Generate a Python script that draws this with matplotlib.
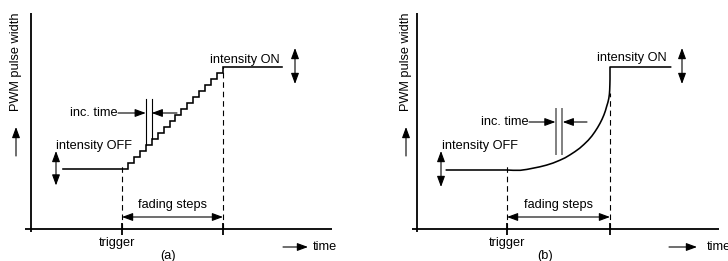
import matplotlib
matplotlib.use("Agg")
import matplotlib.pyplot as plt

# ---------------- data (schematic units) ----------------
# time measured in fade-step periods, level in PWM increments
t_trigger = 0
t_end = 17
level_off = 0
level_on = 17
t_start = -10
t_stop = 27

# panel (a): linear staircase fade
step_times = [0, 1, 2, 3, 4, 5, 6, 7, 8, 9, 10, 11, 12, 13, 14, 15, 16, 17]
step_levels = [0, 1, 2, 3, 4, 5, 6, 7, 8, 9, 10, 11, 12, 13, 14, 15, 16, 17]
inc_marks_a = [4, 5]

# panel (b): smooth exponential-like fade
curve_times = [0, 1.0, 2.2, 3.3, 4.3, 5.4, 6.5, 7.6, 8.7, 9.6, 10.4, 11.2, 12.0,
               12.7, 13.4, 14.0, 14.5, 14.95, 15.35, 15.7, 16.0, 16.25, 16.45,
               16.65, 16.8, 16.9, 16.95, 16.98, 17.0, 17.0]
curve_levels = [0, -0.05, -0.05, 0.1, 0.3, 0.52, 0.8, 1.15, 1.6, 2.02, 2.5, 3.02, 3.6,
                4.22, 4.9, 5.6, 6.3, 7.0, 7.7, 8.4, 9.1, 9.8, 10.5, 11.15, 11.8,
                12.5, 13.2, 14.1, 15.0, 17.0]
inc_marks_b = [8.1, 9.1]

labels = {
    "y": "PWM pulse width", "x": "time", "off": "intensity OFF",
    "on": "intensity ON", "inc": "inc. time", "fade": "fading steps",
    "trig": "trigger",
}
panel_names = ["(a)", "(b)"]

# ---------------- style ----------------
plt.rcParams['font.family'] = ['Liberation Sans', 'DejaVu Sans']
W, H, DPI = 728, 261, 100
FS = 9.2
LW_AX = 1.3
LW_CURVE = 1.15
LW_THIN = 0.8
LW_DASH = 0.8

fig = plt.figure(figsize=(W / DPI, H / DPI), dpi=DPI)


def make_panel(x_trig_px, x_end_px, y_off_px, y_on_px):
    ax = fig.add_axes([0, 0, 1, 1])
    ax.set_axis_off()
    ax.patch.set_alpha(0)
    sx = (x_end_px - x_trig_px) / (t_end - t_trigger)
    sy = (y_off_px - y_on_px) / (level_on - level_off)

    def P(px, py):
        return (t_trigger + (px - x_trig_px) / sx,
                level_off + (y_off_px - py) / sy)

    x0, y1 = P(0, 0)
    x1, y0 = P(W, H)
    ax.set_xlim(x0, x1)
    ax.set_ylim(y0, y1)
    return ax, P


def arrow(ax, tail, tip, style='-|>', color='black', lw=LW_THIN):
    ax.annotate('', xy=tip, xytext=tail, xycoords='data', textcoords='data',
                arrowprops=dict(arrowstyle=f'{style},head_length=0.65,head_width=0.24',
                                color=color, lw=lw, shrinkA=0, shrinkB=0,
                                mutation_scale=10))


def common(ax, P, L, name):
    # axes
    ax.plot(*zip(P(L['yax_x'], 13), P(L['yax_x'], 232)), color='black', lw=LW_AX,
            solid_capstyle='butt')
    ax.plot(*zip(P(L['xax_x0'], 229), P(L['xax_x1'], 229)), color='black', lw=LW_AX,
            solid_capstyle='butt')
    _, ax_level = P(0, 229)
    _, tick_lo = P(0, 235)
    _, tick_hi = P(0, 223)
    for t in (t_trigger, t_end):
        ax.plot([t, t], [tick_lo, tick_hi], color='black', lw=LW_AX, solid_capstyle='butt')
    # dashed markers
    ax.plot([t_trigger, t_trigger], [ax_level, L['trig_dash_top']], color='black',
            lw=LW_DASH, dashes=(5, 3.5))
    ax.plot([t_end, t_end], [ax_level, L['end_dash_top']], color='black',
            lw=LW_DASH, dashes=(5, 3.5))
    # y label + up arrow
    ax.text(*P(L['ylab_x'], 62), labels['y'], rotation=90, ha='center', va='center',
            fontsize=FS)
    arrow(ax, P(L['ylab_x'], 156), P(L['ylab_x'], 127))
    # x label
    arrow(ax, P(L['time_a0'], 247), P(L['time_a1'], 247))
    ax.text(*P(L['time_x'], 247), labels['x'], ha='left', va='center', fontsize=FS)
    ax.text(*P(L['trig_x'], 243), labels['trig'], ha='center', va='center', fontsize=FS)
    ax.text(*P(L['name_x'], 256), name, ha='center', va='center', fontsize=FS)
    # fading steps
    _, fade_y = P(0, 217)
    arrow(ax, (t_trigger, fade_y), (t_end, fade_y), style='<|-|>')
    ax.text(*P(L['fade_x'], 205), labels['fade'], ha='center', va='center', fontsize=FS)
    # OFF / ON
    ax.text(*P(L['off_x'], 146), labels['off'], ha='left', va='center', fontsize=FS)
    arrow(ax, P(L['offarr_x'], 151), P(L['offarr_x'], L['off_y'] + 17), style='<|-|>')
    ax.text(*P(L['on_x'], L['on_ty']), labels['on'], ha='left', va='center', fontsize=FS)
    arrow(ax, P(L['onarr_x'], 48), P(L['onarr_x'], 84), style='<|-|>')
    # inc. time
    ax.text(*P(L['inc_x'], L['inc_y']), labels['inc'], ha='left', va='center', fontsize=FS)


# ---------------- panel (a) ----------------
La = dict(yax_x=31, xax_x0=25, xax_x1=332, ylab_x=16, time_a0=283, time_a1=308,
          time_x=313, trig_x=117, name_x=168, fade_x=172, off_x=56, offarr_x=56,
          off_y=168.5, on_x=210, on_ty=60, onarr_x=295, inc_x=70, inc_y=113)
axa, Pa = make_panel(122, 223, 168.5, 67)
La['trig_dash_top'] = Pa(0, 164)[1]
La['end_dash_top'] = level_on
common(axa, Pa, La, panel_names[0])
ta = [t_start] + step_times + [t_stop]
la = [level_off] + step_levels + [level_on]
axa.step(ta, la, where='post', color='black', lw=LW_CURVE, solid_joinstyle='miter')
_, inc_top_a = Pa(0, 99)
for t in inc_marks_a:
    lev = step_levels[step_times.index(t)]
    axa.plot([t, t], [lev, inc_top_a], color='black', lw=LW_THIN)
_, inc_ya = Pa(0, 113)
arrow(axa, (Pa(118, 0)[0], inc_ya), (inc_marks_a[0], inc_ya))
arrow(axa, (Pa(177, 0)[0], inc_ya), (inc_marks_a[1], inc_ya))

# ---------------- panel (b) ----------------
Lb = dict(yax_x=417, xax_x0=412, xax_x1=719, ylab_x=406, time_a0=669, time_a1=697,
          time_x=707, trig_x=507, name_x=545, fade_x=558, off_x=442, offarr_x=441,
          off_y=170, on_x=597, on_ty=58, onarr_x=682, inc_x=481, inc_y=122)
axb, Pb = make_panel(507, 610, 170, 67)
Lb['trig_dash_top'] = Pb(0, 163)[1]
Lb['end_dash_top'] = Pb(0, 93)[1]
common(axb, Pb, Lb, panel_names[1])
tb = [t_start] + curve_times + [t_stop]
lb = [level_off] + curve_levels + [level_on]
axb.plot(tb, lb, color='black', lw=LW_CURVE, solid_joinstyle='round')
_, inc_top_b = Pb(0, 109)
_, inc_bot_b = Pb(0, 154)
for t in inc_marks_b:
    axb.plot([t, t], [inc_bot_b, inc_top_b], color='#808080', lw=1.4)
_, inc_yb = Pb(0, 122)
arrow(axb, (Pb(529, 0)[0], inc_yb), (inc_marks_b[0] - 0.1, inc_yb))
arrow(axb, (Pb(587, 0)[0], inc_yb), (inc_marks_b[1] + 0.1, inc_yb))

fig.savefig("out.png", dpi=DPI)
